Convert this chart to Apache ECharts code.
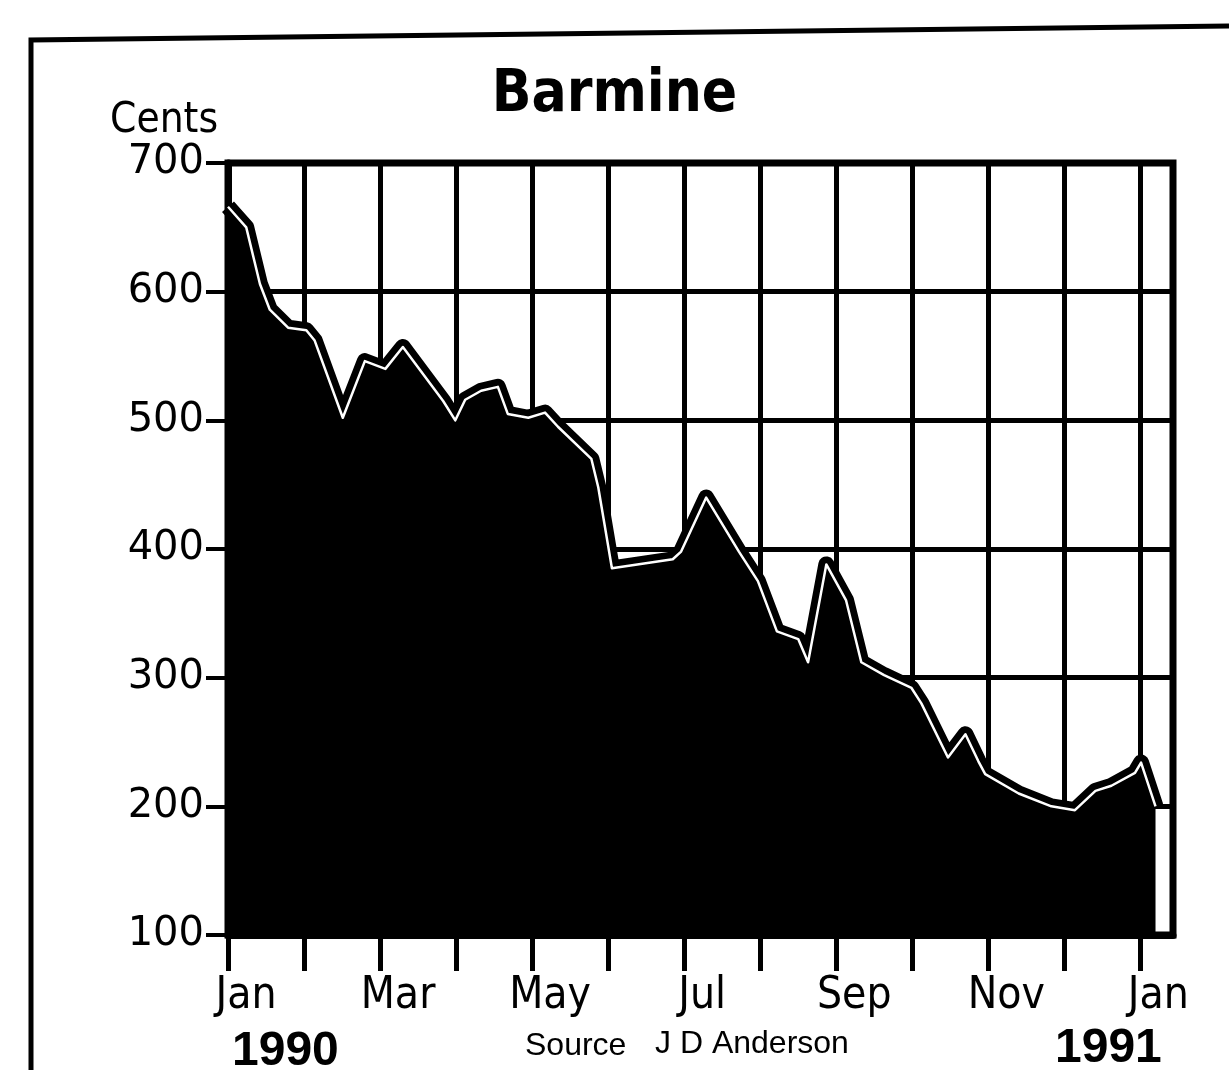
<!DOCTYPE html>
<html>
<head>
<meta charset="utf-8">
<title>Barmine</title>
<script src="https://cdn.jsdelivr.net/npm/echarts@6/dist/echarts.min.js"></script>
<style>
    html, body { margin: 0; padding: 0; background: #fff; }
    #barmine_chart { width: 1229px; height: 1070px; }
</style>
</head>
<body>
<div id="barmine_chart"></div>
<script>
// 月份位置 (0 = Jan 1990, 12 = Jan 1991)
const monthPos = [0, 0.24, 0.42, 0.55, 0.79, 1.03, 1.14, 1.51, 1.80, 2.07,
    2.30, 2.83, 2.99, 3.12, 3.33, 3.55, 3.68, 3.95, 4.17, 4.34,
    4.78, 4.87, 5.05, 5.85, 5.96, 6.29, 6.72, 6.97, 7.22, 7.5,
    7.63, 7.87, 8.13, 8.33, 8.63, 8.99, 9.12, 9.47, 9.7, 9.87,
    9.96, 10.4, 10.83, 11.14, 11.41, 11.62, 11.93, 12.01, 12.2]
// 价格 cents
const cents = [666, 650, 606, 586, 572, 570, 562, 502, 546, 540,
    557, 515, 500, 516, 523, 526, 505, 502, 506, 495,
    470, 448, 385, 392, 398, 440, 398, 375, 336, 330,
    312, 388, 360, 312, 302, 292, 280, 238, 256, 235,
    225, 210, 200, 197, 212, 216, 226, 234, 200]
// x轴刻度标签
const monthLabels = ['Jan', 'Feb', 'Mar', 'Apr', 'May', 'Jun', 'Jul', 'Aug', 'Sep', 'Oct', 'Nov', 'Dec', 'Jan']
const yTicks = [100, 200, 300, 400, 500, 600, 700]

const narrow = "'Liberation Sans Narrow', 'DejaVu Sans Condensed', sans-serif"
const plain = "'Liberation Sans', 'DejaVu Sans', sans-serif"
const wide = "'DejaVu Sans', sans-serif"

const seriesData = monthPos.map(function (m, i) {
    return [m, cents[i]]
})

const myChart = echarts.init(document.getElementById('barmine_chart'))

const option = {
    backgroundColor: '#fff',
    animation: false,
    title: {
        text: 'Barmine',
        left: 'center',
        top: 62,
        textStyle: {
            fontFamily: narrow,
            fontSize: 58,
            fontWeight: 'bold',
            color: '#000'
        }
    },
    grid: {
        left: 228,
        right: 56,
        top: 163,
        bottom: 135,
        show: true,
        borderColor: '#000',
        borderWidth: 7
    },
    xAxis: {
        type: 'value',
        min: 0,
        max: 12.43,
        interval: 1,
        axisLine: { show: true, lineStyle: { color: '#000', width: 7 } },
        axisTick: {
            show: true,
            length: 36,
            lineStyle: { color: '#000', width: 5 },
            customValues: [0, 1, 2, 3, 4, 5, 6, 7, 8, 9, 10, 11, 12]
        },
        axisLabel: {
            customValues: [0, 2, 4, 6, 8, 10, 12],
            margin: 40,
            fontFamily: narrow,
            fontSize: 44,
            color: '#000',
            padding: [0, 0, 0, 36],
            formatter: function (v) {
                const i = Math.round(v)
                if (Math.abs(v - i) > 0.01 || i % 2 !== 0) return ''
                return monthLabels[i]
            }
        },
        splitLine: { show: true, lineStyle: { color: '#000', width: 5 } }
    },
    yAxis: {
        type: 'value',
        min: yTicks[0],
        max: yTicks[yTicks.length - 1],
        interval: 100,
        axisLine: { show: true, lineStyle: { color: '#000', width: 7 } },
        axisTick: { show: true, length: 22, lineStyle: { color: '#000', width: 4 } },
        axisLabel: {
            margin: 24,
            fontFamily: wide,
            fontSize: 40,
            color: '#000'
        },
        splitLine: { show: true, lineStyle: { color: '#000', width: 5 } }
    },
    series: [
        {
            // 黑色填充 + 粗线
            name: 'Barmine',
            type: 'line',
            data: seriesData,
            symbol: 'none',
            lineStyle: { color: '#000', width: 16, join: 'round' },
            areaStyle: { color: '#000', opacity: 1 },
            z: 3
        },
        {
            // 中间白线, 做出双线效果
            name: 'inner',
            type: 'line',
            data: seriesData,
            symbol: 'none',
            lineStyle: { color: '#fff', width: 2.5, join: 'round' },
            z: 4
        }
    ],
    graphic: [
        {
            // 外框
            type: 'polyline',
            shape: { points: [[31, 1070], [31, 40], [1229, 26]] },
            style: { stroke: '#000', lineWidth: 5, fill: null }
        },
        {
            type: 'text',
            left: 110,
            top: 100,
            style: { text: 'Cents', font: '42px ' + narrow, fill: '#000' }
        },
        {
            type: 'text',
            left: 232,
            top: 1028,
            style: { text: '1990', font: 'bold 48px ' + plain, fill: '#000' }
        },
        {
            type: 'text',
            left: 1055,
            top: 1025,
            style: { text: '1991', font: 'bold 48px ' + plain, fill: '#000' }
        },
        {
            type: 'text',
            left: 525,
            top: 1030,
            style: { text: 'Source', font: '32px ' + plain, fill: '#000' }
        },
        {
            type: 'text',
            left: 655,
            top: 1028,
            style: { text: 'J D Anderson', font: '32px ' + plain, fill: '#000' }
        }
    ]
}

myChart.setOption(option)
</script>
</body>
</html>
